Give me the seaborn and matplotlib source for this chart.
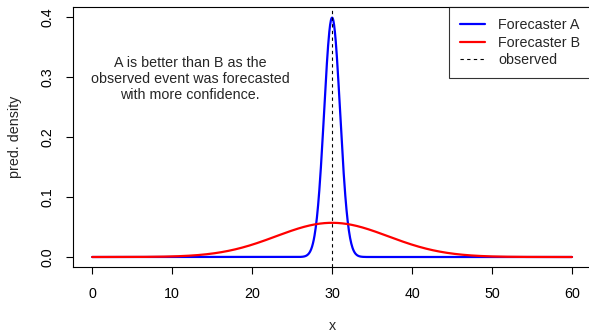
import matplotlib
matplotlib.use("Agg")
import matplotlib.pyplot as plt
import seaborn as sns
import numpy as np
import pandas as pd

forecasters = ["Forecaster A", "Forecaster B"]
means = [30, 30]
sds = [1, 7]
colors = ["#0000ff", "#ff0000"]
observed = 30
x_ticks = [0, 10, 20, 30, 40, 50, 60]
y_ticks = [0.0, 0.1, 0.2, 0.3, 0.4]
note = "A is better than B as the\nobserved event was forecasted\nwith more confidence."

grid = np.linspace(0, 60, 1201)
frames = []
for name, mu, sd in zip(forecasters, means, sds):
    dens = np.exp(-0.5 * ((grid - mu) / sd) ** 2) / (sd * np.sqrt(2 * np.pi))
    frames.append(pd.DataFrame({"x": grid, "density": dens, "forecaster": name}))
df = pd.concat(frames, ignore_index=True)

sns.set_style("white")
plt.rcParams["font.family"] = ["Liberation Sans", "DejaVu Sans"]
fs = 10.3

fig = plt.figure(figsize=(5.89, 3.32), dpi=100)
ax = fig.add_axes([73 / 589, (332 - 266.6) / 332, (591.2 - 73) / 589, (266.6 - 7.4) / 332])

sns.lineplot(
    data=df,
    x="x",
    y="density",
    hue="forecaster",
    palette=colors,
    linewidth=1.6,
    ax=ax,
    legend=False,
)
ax.axvline(observed, color="black", linestyle=(0, (3, 3)), linewidth=0.8)

ax.set_xlim(-2.4, 62.4)
ax.set_ylim(-0.016, 0.416)
ax.set_xticks(x_ticks)
ax.set_yticks(y_ticks)
ax.set_xticklabels([str(t) for t in x_ticks])
ax.set_yticklabels([f"{t:.1f}" for t in y_ticks], rotation=90, va="center")
ax.tick_params(direction="out", length=5, width=0.8, colors="black",
               labelsize=fs, bottom=True, left=True)
ax.tick_params(axis="x", pad=10)
ax.tick_params(axis="y", pad=8)
for s in ax.spines.values():
    s.set_color("black")
    s.set_linewidth(0.8)

ax.set_xlabel("x", fontsize=fs, labelpad=13)
ax.set_ylabel("pred. density", fontsize=fs, labelpad=14)

ax.text(12.25, 0.297, note, ha="center", va="center", fontsize=fs, linespacing=1.2)

handles = [
    plt.Line2D([], [], color=colors[0], linewidth=1.6),
    plt.Line2D([], [], color=colors[1], linewidth=1.6),
    plt.Line2D([], [], color="black", linestyle=(0, (3, 3)), linewidth=0.8),
]
leg = ax.legend(handles, forecasters + ["observed"], loc="upper right",
                bbox_to_anchor=(1.0, 1.0), frameon=True, fancybox=False,
                edgecolor="black", fontsize=fs, handlelength=1.8,
                borderaxespad=0, labelspacing=0.25, handletextpad=0.9,
                borderpad=0.75)
leg.get_frame().set_linewidth(0.8)

fig.savefig("out.png", dpi=100)
